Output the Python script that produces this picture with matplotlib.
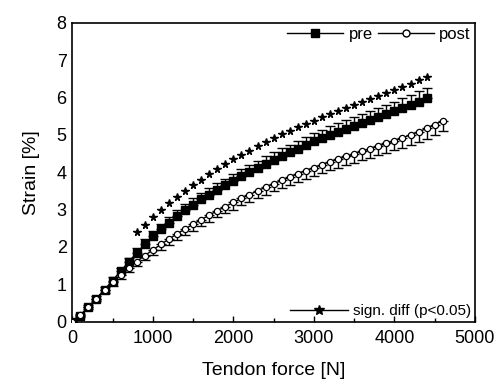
import matplotlib
matplotlib.use("Agg")
import matplotlib.pyplot as plt
from matplotlib.ticker import MultipleLocator
from matplotlib.lines import Line2D

plt.rcParams['font.family'] = ['Liberation Sans', 'DejaVu Sans']

pre_x = list(range(0, 4401, 100))
pre_y = [0.00, 0.15, 0.38, 0.62, 0.86, 1.10, 1.35, 1.60, 1.84, 2.07, 2.28, 2.47, 2.65, 2.82,
         2.98, 3.13, 3.27, 3.40, 3.53, 3.65, 3.77, 3.89, 4.00, 4.11, 4.22, 4.33, 4.43, 4.53,
         4.63, 4.73, 4.83, 4.92, 5.00, 5.08, 5.16, 5.24, 5.32, 5.40, 5.48, 5.56, 5.64, 5.72,
         5.80, 5.89, 5.98]
pre_err = [0.03, 0.05, 0.06, 0.07, 0.08, 0.09, 0.10, 0.11, 0.12, 0.13, 0.14, 0.15, 0.15, 0.16,
           0.16, 0.17, 0.17, 0.18, 0.18, 0.18, 0.19, 0.19, 0.19, 0.20, 0.20, 0.20, 0.21, 0.21,
           0.21, 0.22, 0.22, 0.22, 0.23, 0.23, 0.23, 0.24, 0.24, 0.24, 0.25, 0.25, 0.25, 0.26,
           0.26, 0.27, 0.27]

post_x = list(range(0, 4601, 100))
post_y = [0.00, 0.18, 0.40, 0.62, 0.84, 1.05, 1.25, 1.44, 1.61, 1.77, 1.92, 2.07, 2.21, 2.35,
          2.48, 2.61, 2.73, 2.85, 2.97, 3.08, 3.19, 3.30, 3.40, 3.50, 3.60, 3.69, 3.78, 3.87,
          3.96, 4.04, 4.12, 4.20, 4.28, 4.35, 4.42, 4.49, 4.56, 4.63, 4.70, 4.77, 4.84, 4.92,
          5.00, 5.08, 5.17, 5.27, 5.38]
post_err = [0.03, 0.05, 0.06, 0.07, 0.08, 0.09, 0.10, 0.11, 0.12, 0.13, 0.14, 0.15, 0.15, 0.16,
            0.16, 0.17, 0.17, 0.18, 0.18, 0.18, 0.19, 0.19, 0.19, 0.20, 0.20, 0.20, 0.21, 0.21,
            0.21, 0.22, 0.22, 0.22, 0.23, 0.23, 0.23, 0.24, 0.24, 0.24, 0.25, 0.25, 0.25, 0.26,
            0.26, 0.27, 0.27, 0.28, 0.28]

sig_x = list(range(800, 4401, 100))
sig_y = [2.40, 2.60, 2.80, 2.99, 3.17, 3.34, 3.50, 3.65, 3.80, 3.94, 4.08, 4.21, 4.34, 4.46,
         4.58, 4.69, 4.80, 4.91, 5.01, 5.11, 5.20, 5.29, 5.38, 5.47, 5.55, 5.63, 5.71, 5.79,
         5.87, 5.95, 6.03, 6.11, 6.19, 6.28, 6.37, 6.46, 6.56]

fig = plt.figure(figsize=(5.01, 3.89), dpi=100)
ax = fig.add_axes([0.1443, 0.173, 0.8037, 0.7687])

zeros_pre = [0] * len(pre_err)
zeros_post = [0] * len(post_err)

ax.errorbar(pre_x, pre_y, yerr=[zeros_pre, pre_err], fmt='none', ecolor='black',
            elinewidth=1.0, capsize=3.5, capthick=1.0, zorder=2)
ax.errorbar(post_x, post_y, yerr=[post_err, zeros_post], fmt='none', ecolor='black',
            elinewidth=1.0, capsize=3.5, capthick=1.0, zorder=2)
ax.plot(pre_x, pre_y, color='black', marker='s', markersize=5.5, markerfacecolor='black',
        markeredgecolor='black', linewidth=1.0, zorder=3)
ax.plot(post_x, post_y, color='black', marker='o', markersize=4.5, markerfacecolor='white',
        markeredgecolor='black', markeredgewidth=0.9, linewidth=1.0, zorder=3)
ax.plot(sig_x, sig_y, color='black', marker='*', markersize=5.5, linestyle='none', zorder=3)

ax.set_xlim(0, 5000)
ax.set_ylim(0, 8)
ax.xaxis.set_major_locator(MultipleLocator(1000))
ax.xaxis.set_minor_locator(MultipleLocator(500))
ax.yaxis.set_major_locator(MultipleLocator(1))
ax.tick_params(axis='x', which='major', direction='in', length=4, width=1.0, labelsize=13, pad=6)
ax.tick_params(axis='x', which='minor', direction='in', length=3, width=1.0)
ax.tick_params(axis='y', which='both', length=0, labelsize=13, pad=4)
for s in ax.spines.values():
    s.set_linewidth(1.2)

ax.set_xlabel('Tendon force [N]', fontsize=14, labelpad=11)
ax.set_ylabel('Strain [%]', fontsize=14, labelpad=12)

h_pre = Line2D([], [], color='black', marker='s', markersize=6, linewidth=1.0)
h_post = Line2D([], [], color='black', marker='o', markersize=5, markerfacecolor='white', linewidth=1.0)
h_sig = Line2D([], [], color='black', marker='*', markersize=7, linewidth=1.0)

leg1 = ax.legend([h_pre, h_post], ['pre', 'post'], loc='upper right', ncol=2, frameon=False,
                 fontsize=12, handlelength=3.4, handletextpad=0.3, columnspacing=0.3,
                 borderaxespad=0.05, borderpad=0.2)
ax.add_artist(leg1)
ax.legend([h_sig], ['sign. diff (p<0.05)'], loc='lower right', frameon=False, fontsize=11,
          handlelength=3.8, handletextpad=0.3, borderaxespad=0.05, borderpad=0.2)

fig.savefig('out.png', dpi=100)
